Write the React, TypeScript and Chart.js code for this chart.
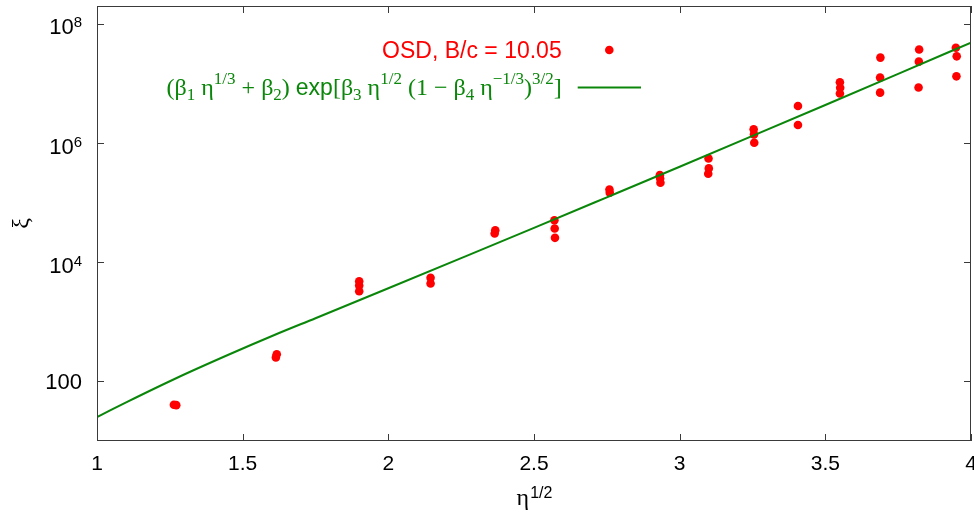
import React, { useEffect, useRef } from 'react';
import { Chart, registerables } from 'chart.js';

Chart.register(...registerables);

// ---- data ----
const etaHalf = [
  1.264, 1.272,
  1.617, 1.614,
  1.90, 1.90, 1.90,
  2.145, 2.145,
  2.367, 2.365,
  2.570, 2.571, 2.572,
  2.759, 2.760,
  2.932, 2.933, 2.934,
  3.099, 3.100, 3.098,
  3.254, 3.255, 3.256,
  3.406, 3.406,
  3.550, 3.551, 3.550,
  3.689, 3.688, 3.688,
  3.822, 3.821, 3.820,
  3.948, 3.951, 3.950,
];
const xiValues = [
  40.5, 40.0,
  286, 253,
  4800, 4060, 3260,
  5470, 4400,
  34500, 30300,
  50800, 36800, 25700,
  166700, 146700,
  290000, 255000, 216000,
  553000, 376000, 306000,
  1.70e6, 1.40e6, 1.016e6,
  4.19e6, 2.01e6,
  1.047e7, 8.47e6, 6.79e6,
  2.72e7, 1.256e7, 7.03e6,
  3.72e7, 2.33e7, 8.57e6,
  3.98e7, 2.86e7, 1.32e7,
];
const fitEta = [1.0, 1.05, 1.107, 1.268, 1.451, 1.611, 1.75, 2.0, 2.25, 2.5, 2.75, 3.0, 3.25, 3.5, 3.75, 4.0];
const fitXi = [25.2, 33.6, 46.3, 111, 280, 607, 1151, 3664, 11750, 37840, 123000, 401000, 1.318e6, 4.365e6, 1.452e7, 4.86e7];

const xTicks = [1, 1.5, 2, 2.5, 3, 3.5, 4];
const xTickLabels = ['1', '1.5', '2', '2.5', '3', '3.5', '4'];
const yTicks = [100, 1e4, 1e6, 1e8];
const yTickBases = ['100', '10', '10', '10'];
const yTickExps = ['', '4', '6', '8'];

const seriesLabel = 'OSD, B/c = 10.05';
// formula legend: [text, kind]  kind: m = main serif, s = main sans, u = superscript, d = subscript
const fitLabelRuns: [string, string][] = [
  ['(β', 'm'], ['1', 'd'], [' η', 'm'], ['1/3', 'u'], [' + β', 'm'], ['2', 'd'], [') ', 'm'],
  ['exp', 's'], ['[β', 'm'], ['3', 'd'], [' η', 'm'], ['1/2', 'u'], [' (1 − β', 'm'], ['4', 'd'],
  [' η', 'm'], ['−1/3', 'u'], [')', 'm'], ['3/2', 'u'], [']', 'm'],
];
const xTitleMain = 'η';
const xTitleSup = '1/2';
const yTitle = 'ξ';

const RED = '#ff0000';
const GREEN = '#0a870a';
const SANS = '"Liberation Sans", Arial, Helvetica, sans-serif';
const SERIF = '"Liberation Serif", "Times New Roman", serif';

function runFont(kind: string) {
  if (kind === 'm') return `24px ${SERIF}`;
  if (kind === 's') return `23px ${SANS}`;
  return `17px ${SERIF}`;
}
function runDy(kind: string) {
  if (kind === 'u') return -11;
  if (kind === 'd') return 5;
  return 0;
}

const decorPlugin = {
  id: 'decor',
  afterDraw(chart: any) {
    const ctx: CanvasRenderingContext2D = chart.ctx;
    const { left, right, top, bottom } = chart.chartArea;
    const xs = chart.scales.x;
    const ys = chart.scales.y;
    ctx.save();

    // border
    ctx.strokeStyle = '#3a3a3a';
    ctx.lineWidth = 1;
    ctx.strokeRect(left + 0.5, top + 0.5, right - left - 1, bottom - top - 1);

    // ticks (inward, mirrored)
    const tl = 7;
    ctx.beginPath();
    xTicks.forEach((v) => {
      const px = Math.round(xs.getPixelForValue(v)) + 0.5;
      ctx.moveTo(px, bottom);
      ctx.lineTo(px, bottom - tl);
      ctx.moveTo(px, top);
      ctx.lineTo(px, top + tl);
    });
    yTicks.forEach((v) => {
      const py = Math.round(ys.getPixelForValue(v)) + 0.5;
      ctx.moveTo(left, py);
      ctx.lineTo(left + tl, py);
      ctx.moveTo(right, py);
      ctx.lineTo(right - tl, py);
    });
    ctx.stroke();

    // y tick labels with superscripts
    ctx.fillStyle = '#000';
    ctx.textAlign = 'left';
    ctx.textBaseline = 'alphabetic';
    const labelRight = left - 15;
    yTicks.forEach((v, i) => {
      const py = ys.getPixelForValue(v);
      const base = yTickBases[i];
      const exp = yTickExps[i];
      ctx.font = `22px ${SANS}`;
      const wb = ctx.measureText(base).width;
      ctx.font = `15px ${SANS}`;
      const we = exp ? ctx.measureText(exp).width : 0;
      const x0 = labelRight - wb - we;
      ctx.font = `22px ${SANS}`;
      if (exp) {
        ctx.fillText(base, x0, py + 10.5);
        ctx.font = `15px ${SANS}`;
        ctx.fillText(exp, x0 + wb, py + 3.5);
      } else {
        ctx.fillText(base, x0, py + 8);
      }
    });

    // x title: η^{1/2}
    const cx = (left + right) / 2;
    ctx.font = `24px ${SERIF}`;
    const wEta = ctx.measureText(xTitleMain).width;
    ctx.font = `16px ${SANS}`;
    const wSup = ctx.measureText(xTitleSup).width;
    const xStart = cx - (wEta + wSup) / 2;
    ctx.font = `24px ${SERIF}`;
    ctx.fillText(xTitleMain, xStart, 505);
    ctx.font = `16px ${SANS}`;
    ctx.fillText(xTitleSup, xStart + wEta + 1, 497.5);

    // y title: ξ rotated
    ctx.save();
    ctx.translate(22, (top + bottom) / 2);
    ctx.rotate(-Math.PI / 2);
    ctx.font = `24px ${SERIF}`;
    ctx.textAlign = 'center';
    ctx.textBaseline = 'middle';
    ctx.fillText(yTitle, 0, 0);
    ctx.restore();

    // legend line 1
    const legRight = 561.7;
    ctx.font = `23px ${SANS}`;
    ctx.fillStyle = RED;
    ctx.textAlign = 'right';
    ctx.textBaseline = 'alphabetic';
    ctx.fillText(seriesLabel, legRight, 58.3);
    ctx.beginPath();
    ctx.arc(609.3, 50, 4.3, 0, Math.PI * 2);
    ctx.fill();

    // legend line 2 (formula)
    ctx.textAlign = 'left';
    let total = 0;
    fitLabelRuns.forEach(([t, k]) => {
      ctx.font = runFont(k);
      total += ctx.measureText(t).width;
    });
    let x = legRight - total;
    const baseY = 95;
    ctx.fillStyle = GREEN;
    fitLabelRuns.forEach(([t, k]) => {
      ctx.font = runFont(k);
      ctx.fillText(t, x, baseY + runDy(k));
      x += ctx.measureText(t).width;
    });
    ctx.strokeStyle = GREEN;
    ctx.lineWidth = 2;
    ctx.beginPath();
    ctx.moveTo(577.7, 87.5);
    ctx.lineTo(641, 87.5);
    ctx.stroke();

    ctx.restore();
  },
};

export default function App() {
  const ref = useRef<HTMLCanvasElement | null>(null);
  useEffect(() => {
    document.body.style.margin = '0';
    const canvas = ref.current!;
    const chart = new Chart(canvas, {
      type: 'scatter',
      data: {
        datasets: [
          {
            label: 'fit',
            data: fitEta.map((v, i) => ({ x: v, y: fitXi[i] })),
            showLine: true,
            borderColor: GREEN,
            backgroundColor: GREEN,
            borderWidth: 2,
            pointRadius: 0,
            tension: 0.4,
            cubicInterpolationMode: 'monotone',
            fill: false,
            order: 0,
          } as any,
          {
            label: seriesLabel,
            data: etaHalf.map((v, i) => ({ x: v, y: xiValues[i] })),
            showLine: false,
            pointRadius: 4.3,
            pointBackgroundColor: RED,
            pointBorderColor: RED,
            pointBorderWidth: 0,
            backgroundColor: RED,
            borderColor: RED,
            order: 1,
          } as any,
        ],
      },
      options: {
        animation: false,
        responsive: false,
        devicePixelRatio: 1,
        layout: { padding: { top: 6, right: 3, left: 0, bottom: 0 }, autoPadding: false } as any,
        plugins: { legend: { display: false }, tooltip: { enabled: false } },
        scales: {
          x: {
            type: 'linear',
            min: 1,
            max: 4,
            afterBuildTicks: (s: any) => {
              s.ticks = xTicks.map((v) => ({ value: v }));
            },
            afterFit: (s: any) => {
              s.height = 74;
              s.paddingLeft = 0;
              s.paddingRight = 0;
            },
            ticks: {
              color: '#000',
              font: { family: SANS, size: 21 },
              padding: 11,
              maxRotation: 0,
              autoSkip: false,
              callback: (v: any) => {
                const i = xTicks.indexOf(Number(v));
                return i >= 0 ? xTickLabels[i] : '';
              },
            },
            grid: { display: false, drawTicks: false },
            border: { display: false },
          },
          y: {
            type: 'logarithmic',
            min: 10,
            max: 2e8,
            afterFit: (s: any) => {
              s.width = 97;
              s.paddingTop = 0;
              s.paddingBottom = 0;
            },
            ticks: { display: false },
            grid: { display: false, drawTicks: false },
            border: { display: false },
          },
        },
      },
      plugins: [decorPlugin],
    });
    return () => chart.destroy();
  }, []);
  return (
    <div style={{ width: 974, height: 515, background: '#fff' }}>
      <canvas ref={ref} width={974} height={515} style={{ display: 'block' }} />
    </div>
  );
}
